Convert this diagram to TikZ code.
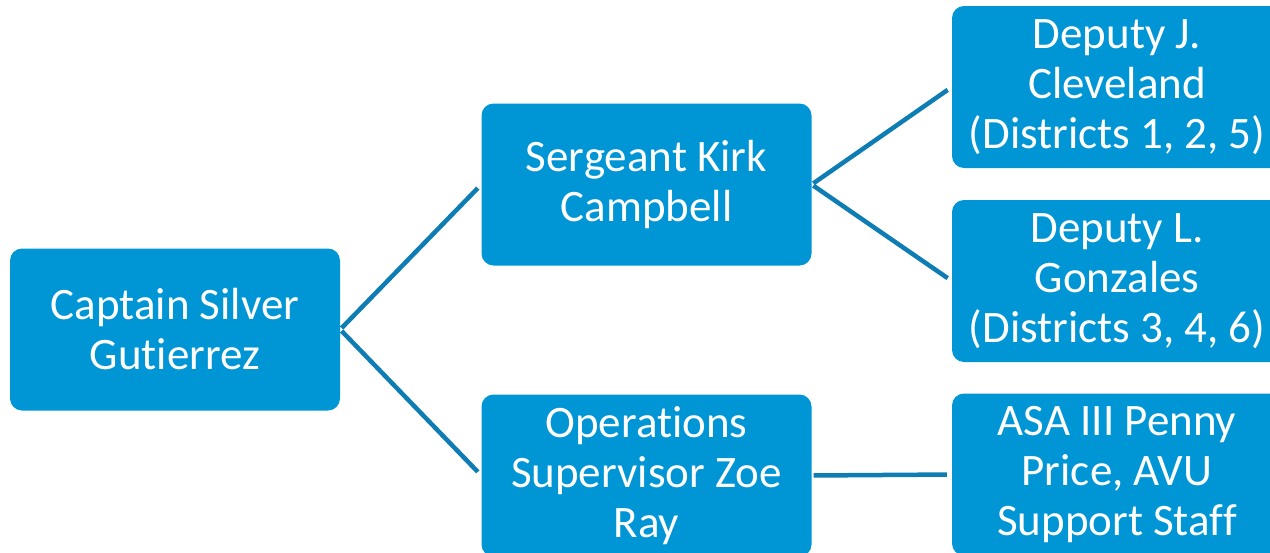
\documentclass[tikz,border=0pt]{standalone}
\usepackage{fontspec}
\setmainfont{Carlito}[Ligatures=NoCommon]
\definecolor{boxblue}{RGB}{0,150,214}
\definecolor{lineblue}{RGB}{14,125,180}
\tikzset{
  rolebox/.style={rectangle,rounded corners=12pt,fill=boxblue,text=white,
    minimum width=330pt,minimum height=162pt,inner sep=0pt,align=center,
    font=\fontsize{45}{50}\selectfont},
  link/.style={draw=lineblue,line width=4.5pt,shorten <=2pt,shorten >=5pt}
}
\begin{document}
\begin{tikzpicture}[x=1pt,y=-1pt]
    \useasboundingbox (0,0) rectangle (1270,552);
    \clip (0,0) rectangle (1270,552);

    \node[rolebox] (cap) at (175,329.5) {Captain Silver\\Gutierrez};

    \node[rolebox] (serg) at (646.5,184.5) {Sergeant Kirk\\Campbell};
    \node[rolebox] (ops) at (646.5,475.5) {Operations\\Supervisor Zoe\\Ray};

    \node[rolebox] (depj) at (1117,87) {Deputy J.\\Cleveland\\(Districts 1, 2, 5)};
    \node[rolebox] (depl) at (1117,281) {Deputy L.\\Gonzales\\(Districts 3, 4, 6)};
    \node[rolebox] (asa) at (1117,474.5) {ASA III Penny\\Price, AVU\\Support Staff};

    \draw[link] (cap.east) -- (serg.west);
    \draw[link] (cap.east) -- (ops.west);

    \draw[link] (serg.east) -- (depj.west);
    \draw[link] (serg.east) -- (depl.west);

    \draw[link] (ops.east) -- (asa.west);
\end{tikzpicture}
\end{document}
